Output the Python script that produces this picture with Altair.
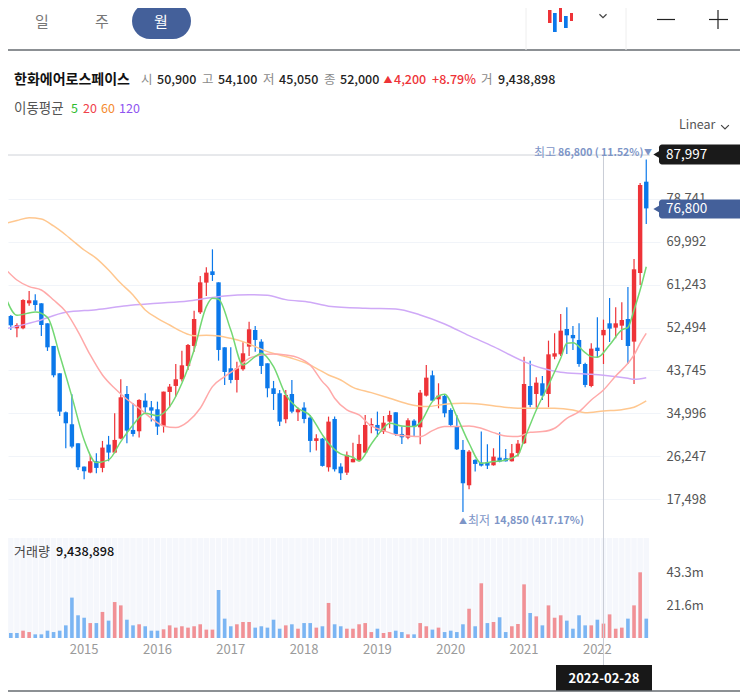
import altair as alt
import pandas as pd

FONT = "Noto Sans CJK KR"
RED = "#ee3338"
BLUE = "#0b78ea"
NAVY = "#44609a"
SOFT = "#7d95c7"
ONE = pd.DataFrame({"a": [1]})

# monthly candles, index 0 = 2013-12
opens = [56750,54850,52330,52330,57430,58040,57430,53350,48730,43150,
         35190,32750,28870,24110,22890,25200,23840,28600,26970,29820,
         38930,31590,31320,37570,36210,35810,32410,39340,40570,41930,
         44650,48730,55590,61650,63960,61710,48450,44170,41790,43970,
         48590,51990,49610,45190,40090,39070,33770,38930,35190,36150,
         34110,29350,29820,23970,33830,24110,22880,24990,25470,26960,
         32470,32610,31250,33290,35190,30770,30020,33490,32130,38590,
         42740,37840,38520,35670,32400,27510,20300,25470,24920,24990,
         24380,25940,25810,25190,26890,28870,40560,38930,41110,38930,
         46550,47020,52190,50970,49950,45050,40560,48380,50900,53350,
         52460,52870,54230,49610,63620,82250]
highs = [57090,55050,53350,58250,59950,59270,57430,53350,48730,43150,
         35330,38870,28870,24110,26490,26830,29350,30370,34990,41930,
         40570,37030,37850,39070,37510,37370,39410,40970,45050,47770,
         49130,55930,63010,64770,68450,61710,48450,48450,45530,49470,
         53690,52810,50090,45190,41590,39750,39750,41790,36150,37230,
         34650,30710,29960,34310,34310,24790,27170,29000,30630,34650,
         33970,35330,34440,35530,35190,32270,33970,33760,39750,44850,
         43690,41110,38860,36010,34650,29550,27510,25600,31250,28660,
         27850,31110,27710,28730,29550,46550,45730,42330,42600,49810,
         51310,55250,56610,52800,53350,45320,49270,54570,54100,58510,
         56610,57640,60760,66470,81980,86800]
lows = [52530,51990,50490,52130,56950,55930,50770,47710,42330,34450,
        27850,27850,23430,21530,22750,22750,22950,25200,26830,29690,
        28870,30230,30030,34990,33290,30570,31050,36210,38390,41450,
        43830,47570,55250,58930,61990,45730,40770,41110,39210,43690,
        46690,47570,43010,38250,35670,32410,32950,34990,33430,32950,
        27030,27370,24110,23090,23090,21390,22410,24990,25130,26830,
        30910,30230,30770,31930,30360,28730,29680,30230,28660,38390,
        37500,36010,34170,32400,27510,14850,19480,23090,24110,23630,
        24310,24990,25130,25130,26150,28730,36210,36140,37710,36210,
        46000,46680,47090,47910,44510,40290,40290,46410,45050,49540,
        50290,49950,45050,40970,61170,73620]
closes = [54510,52940,53010,58110,58040,57090,53010,48450,42740,35330,
          32950,28190,23970,23160,25200,23840,27990,26970,29550,38250,
          31450,30770,37710,36210,35530,32270,39410,40430,41930,44780,
          48930,54230,61710,63690,63210,47910,43420,41790,44170,47230,
          52130,49950,44650,40090,38930,33290,38730,35330,35810,33830,
          29350,29890,24250,33290,23560,22750,26490,25670,28730,32610,
          32810,31450,33080,34650,30770,30090,33560,32400,39200,42260,
          37570,38590,34990,32610,27640,20710,27170,24650,24310,24310,
          26150,25130,25190,26830,28800,40970,36690,41240,38590,47020,
          47230,51850,50900,50290,45050,40770,48180,47700,52000,52260,
          53350,54030,48720,64370,81570,76800]

# volume in millions, with the colour the volume pane gives each month
volumes = [3.3,3.3,3.3,4.8,3.9,2.4,2.4,4.8,3.9,4.8,
           8.3,26.5,14.9,13.3,9.8,9.8,17.1,11.4,23.6,21.4,
           12.0,8.3,9.0,7.7,4.8,4.8,5.7,8.3,6.8,7.7,
           6.8,7.7,9.0,5.5,5.5,31.5,12.7,7.7,9.0,10.5,
           10.5,6.8,7.7,6.8,12.0,6.1,8.3,9.0,6.1,9.8,
           9.8,6.8,7.7,23.0,9.0,7.7,6.1,6.1,9.0,9.8,
           3.9,6.1,3.3,3.9,4.8,3.9,2.4,2.4,9.8,7.7,
           5.5,6.8,3.9,4.8,3.9,9.0,19.2,7.7,35.9,9.8,
           10.5,13.6,3.9,7.7,9.2,35.2,16.4,14.2,8.3,21.4,
           13.3,14.9,11.4,6.1,14.9,8.3,8.3,12.0,9.44,15.5,
           6.1,6.8,12.7,21.4,43.1,12.7]
vol_flags = ("bbbrrbbbbb" "bbbbrbrbrr" "bbrbbbrrrr" "rrrrrbbbrr" "rbbbbbrbrb"
             "brbrbbrrrr" "rbrrbbrbrr" "brbbbbrbrb" "rbbrrrbrbr" "rrbbbbrbrr" "rrbrrb")

ma5 = [(0,59130),(2,54980),(5,55660),(7,54570),(9,46890),(11,38390),(13,29550),(15,24930),(17,25470),(19,29210),
       (21,32610),(23,34990),(25,34510),(27,36350),(29,41110),(31,47910),(33,56750),(34,58450),(35,58250),(37,51990),
       (39,44850),(41,46550),(42,47230),(44,44510),(46,38730),(48,36010),(50,34510),(52,30570),(53,28870),(55,26690),
       (57,26010),(58,25260),(60,28730),(62,31930),(63,32950),(65,32400),(67,32270),(68,33080),(70,37370),(71,38520),
       (72,38860),(74,34310),(76,28870),(78,24790),(80,25130),(82,25470),(84,26490),(85,29550),(87,35670),(89,40770),
       (91,46210),(92,49270),(93,49400),(95,47360),(96,46550),(97,46410),(99,48930),(101,51990),(102,52530),(103,56060),
       (104,60150),(105,64900)]
ma20 = [(0,64570),(2,62190),(4,60830),(6,60150),(8,58110),(10,55730),(12,51650),(14,46890),(16,42810),(18,40090),
        (20,37850),(22,36010),(24,33970),(26,32410),(28,32070),(30,33290),(32,36010),(34,40430),(36,42470),(38,44170),
        (40,46210),(42,46890),(44,47090),(46,46890),(48,46350),(50,44850),(52,41450),(53,40090),(54,38050),(56,35670),
        (58,34650),(60,32400),(62,31450),(64,30630),(66,30360),(68,30230),(70,31450),(72,32270),(74,32270),(76,32400),
        (78,31930),(80,31040),(82,30360),(84,30230),(86,31110),(88,31250),(90,31930),(92,33970),(94,35330),(96,37710),
        (98,39750),(100,42600),(102,45190),(103,46890),(104,49270),(105,51310)]
ma60 = [(0,73720),(2,74330),(4,74900),(6,74630),(8,73210),(10,71370),(11,70350),(13,68310),(15,66610),(17,64230),
        (19,61510),(21,59130),(23,56070),(25,54370),(27,53010),(29,51650),(31,50830),(33,50900),(35,50770),(37,50290),
        (39,49610),(41,48590),(43,47570),(45,46890),(47,46210),(49,45390),(51,44170),(53,42810),(55,41790),(57,40290),
        (60,39200),(63,38050),(66,36890),(69,36350),(72,36820),(75,37030),(78,36820),(81,36350),(84,36010),(87,36010),
        (90,36010),(93,35670),(95,35120),(98,35460),(101,35730),(103,36210),(105,37500)]
ma120 = [(0,52190),(5,53690),(10,55590),(15,56140),(20,56950),(25,57430),(30,57910),(33,58450),(36,58930),(40,59200),
         (43,59060),(46,58180),(50,57630),(53,56850),(59,56410),(64,56270),(68,55050),(72,53210),(76,50830),(80,48590),
         (85,45530),(88,44170),(91,43350),(95,43010),(98,42740),(102,42130),(103,41920),(105,42260)]

price_ticks = [17498,26247,34996,43745,52494,61243,69992,78741]
volume_ticks = [21.6,43.3]
year_ticks = [13,25,37,49,61,73,85,97]
year_labels = ["2015","2016","2017","2018","2019","2020","2021","2022"]

n = len(closes)
df = pd.DataFrame({"i": list(range(n)), "open": opens, "high": highs, "low": lows, "close": closes,
                   "vol": volumes, "vdir": ["up" if f == "r" else "down" for f in vol_flags]})
df["dir"] = ["up" if c >= o else "down" for o, c in zip(opens, closes)]

W, H = 652, 630
X_DOM = [0.54, 107.25]
x_plain = alt.X("i:Q", scale=alt.Scale(domain=X_DOM, nice=False, zero=False), axis=None)
P_SCALE = alt.Scale(domain=[17498, 87490], range=[491, 148], nice=False, zero=False)
V_SCALE = alt.Scale(domain=[0, 43.3], range=[630, 564], nice=False, zero=False)
color = alt.Color("dir:N", scale=alt.Scale(domain=["up", "down"], range=[RED, BLUE]), legend=None)
vcolor = alt.Color("vdir:N", scale=alt.Scale(domain=["up", "down"], range=[RED, BLUE]), legend=None)
base = alt.Chart(df)

layers = []


def ui_rect(x, x2, y, y2, fill, radius=0):
    return alt.Chart(ONE).mark_rect(color=fill, cornerRadius=radius).encode(
        x=alt.value(x - 8), x2=alt.value(x2 - 8), y=alt.value(y - 8), y2=alt.value(y2 - 8))


def ui_rule(x, x2, y, y2, stroke, width=1):
    return alt.Chart(ONE).mark_rule(color=stroke, strokeWidth=width).encode(
        x=alt.value(x - 8), x2=alt.value(x2 - 8), y=alt.value(y - 8), y2=alt.value(y2 - 8))


def ui_text(text, x, y, fill="#222222", size=12.5, weight="normal", align="left"):
    return alt.Chart(ONE).mark_text(text=text, color=fill, fontSize=size, fontWeight=weight, font=FONT,
                                    align=align, baseline="middle").encode(
        x=alt.value(x - 8), y=alt.value(y - 8))


def ui_point(shape, x, y, size, fill=None, stroke=None, width=1):
    kw = {"filled": fill is not None, "size": size, "shape": shape, "opacity": 1}
    if fill:
        kw["color"] = fill
    if stroke:
        kw["color"] = stroke
        kw["strokeWidth"] = width
    return alt.Chart(ONE).mark_point(**kw).encode(x=alt.value(x - 8), y=alt.value(y - 8))


# price grid + axis
layers.append(base.mark_rule(opacity=0).encode(
    x=x_plain,
    y=alt.Y("low:Q", scale=P_SCALE, axis=alt.Axis(
        values=price_ticks, orient="right", format=",.0f", title=None, domain=False, ticks=False, grid=True,
        gridColor="#f1f4f9", gridWidth=1, labelColor="#555555", labelFontSize=13, labelPadding=6,
        labelFont=FONT, labelFontWeight="normal"))))

# year labels placed through the month scale
layers.append(alt.Chart(pd.DataFrame({"i": year_ticks, "year": year_labels})).mark_text(
    color="#9a9a9a", fontSize=13, font=FONT, align="center", baseline="middle").encode(
    x=x_plain, y=alt.value(642), text="year:N"))

# volume pane: month stripes, bars, axis
layers.append(base.mark_rule(color="#f5f7fc", strokeWidth=5.4, clip=True).encode(
    x=x_plain, y=alt.value(530), y2=alt.value(630)))
layers.append(base.mark_rule(strokeWidth=3.6, opacity=0.52, clip=True).encode(
    x=x_plain,
    y=alt.Y("vol:Q", scale=V_SCALE, axis=alt.Axis(
        values=volume_ticks, orient="right", title=None, domain=False, ticks=False, grid=False,
        labelExpr="datum.value + 'm'", labelColor="#555555", labelFontSize=13, labelPadding=6,
        labelFont=FONT, labelFontWeight="normal")),
    y2=alt.Y2(datum=0),
    color=vcolor))

# guides
layers.append(ui_rule(0, 650, 155, 155, "#cfd2d8"))
layers.append(alt.Chart(pd.DataFrame({"i": [98]})).mark_rule(color="#c9cdd6", strokeWidth=1).encode(
    x=x_plain, y=alt.value(147), y2=alt.value(660)))

# candles
layers.append(base.mark_rule(strokeWidth=1.2, clip=True).encode(
    x=x_plain, y=alt.Y("high:Q", scale=P_SCALE, axis=None), y2="low:Q", color=color))
layers.append(base.mark_rule(strokeWidth=4.4, strokeCap="butt", clip=True).encode(
    x=x_plain, y=alt.Y("open:Q", scale=P_SCALE, axis=None), y2="close:Q", color=color))

# moving averages
for pairs, stroke in [(ma120, "#cfa9f7"), (ma60, "#ffc78f"), (ma20, "#ffa9a9"), (ma5, "#73d873")]:
    layers.append(alt.Chart(pd.DataFrame(pairs, columns=["i", "v"])).mark_line(
        color=stroke, strokeWidth=1.5, interpolate="monotone", clip=True).encode(
        x=x_plain, y=alt.Y("v:Q", scale=P_SCALE, axis=None)))

# extreme annotations
layers.append(ui_text("최고", 534, 153, SOFT, 12))
layers.append(ui_text("86,800 ( 11.52%)", 558, 153, SOFT, 10.5, "bold"))
layers.append(ui_text("▼", 648, 153, SOFT, 8, "normal", "center"))
layers.append(ui_text("▲", 463, 522, SOFT, 8, "normal", "center"))
layers.append(ui_text("최저", 468, 521, SOFT, 12))
layers.append(ui_text("14,850 (417.17%)", 494, 521, SOFT, 10.6, "bold"))

# price tags
layers.append(ui_rect(659, 745, 144.5, 164.5, "#1a1a1a", 3))
layers.append(ui_point("triangle-left", 657, 154.5, 70, fill="#1a1a1a"))
layers.append(ui_text("87,997", 666, 155, "#ffffff", 13.5))
layers.append(ui_rect(659, 745, 199.5, 218.5, NAVY, 3))
layers.append(ui_point("triangle-left", 657, 209, 70, fill=NAVY))
layers.append(ui_text("76,800", 666, 209, "#ffffff", 13.5))

# date tag and frame lines
layers.append(ui_rect(556, 652, 665, 691, "#181818"))
layers.append(ui_text("2022-02-28", 604, 679, "#ffffff", 13, "bold", "center"))
layers.append(ui_rule(0, 745, 691, 691, "#666b70", 1.5))
layers.append(ui_rule(0, 745, 50, 50, "#666b70", 1.5))
layers.append(ui_rule(526, 526, 0, 50, "#eeeeee"))
layers.append(ui_rule(626, 626, 0, 50, "#eeeeee"))

# tabs
layers.append(ui_rect(132, 191, 3, 39, NAVY, 18))
layers.append(ui_text("일", 42, 22, "#777777", 15, "normal", "center"))
layers.append(ui_text("주", 102, 22, "#777777", 15, "normal", "center"))
layers.append(ui_text("월", 161, 22, "#ffffff", 15, "normal", "center"))

# candle icon
for x0, x1, y0, y1, c in [(548, 551.5, 10, 23, RED), (553, 556.7, 13, 32, BLUE), (559, 562, 7, 22, RED),
                          (564, 567.7, 16, 28, BLUE), (570, 573, 13, 21, RED)]:
    layers.append(ui_rect(x0, x1, y0, y1, c))
layers.append(ui_point("M-1,-0.5L0,0.5L1,-0.5", 603, 16, 50, stroke="#444444", width=1.2))
layers.append(ui_rule(657, 675, 19.5, 19.5, "#222222", 1.2))
layers.append(ui_rule(709, 728, 19.5, 19.5, "#222222", 1.2))
layers.append(ui_rule(718, 718, 10, 29, "#222222", 1.2))

# info rows
layers.append(ui_text("한화에어로스페이스", 14, 80, "#111111", 14, "bold"))
for text, x, fill in [("시", 141, "#8a8a8a"), ("50,900", 157, "#222222"), ("고", 202, "#8a8a8a"),
                      ("54,100", 218, "#222222"), ("저", 263, "#8a8a8a"), ("45,050", 279, "#222222"),
                      ("종", 324, "#8a8a8a"), ("52,000", 340, "#222222"), ("4,200", 394, "#ee3338"),
                      ("+8.79%", 432, "#ee3338"), ("거", 481, "#8a8a8a"), ("9,438,898", 498, "#222222")]:
    weight = "normal" if fill == "#8a8a8a" else 500
    layers.append(ui_text(text, x, 80, fill, 12.5, weight))
layers.append(ui_text("▲", 388, 80, "#ee3338", 9, "normal", "center"))
layers.append(ui_text("이동평균", 14, 109, "#555555", 13.5))
layers.append(ui_text("5", 71, 109, "#2dbb2d", 12.5))
layers.append(ui_text("20", 83, 109, "#f0414a", 12.5))
layers.append(ui_text("60", 101, 109, "#f58a2e", 12.5))
layers.append(ui_text("120", 119, 109, "#8f55f0", 12.5))
layers.append(ui_text("Linear", 679, 125, "#555555", 12.5))
layers.append(ui_point("M-1,-0.5L0,0.5L1,-0.5", 725, 127, 60, stroke="#444444", width=1.2))
layers.append(ui_text("거래량", 14, 552, "#444444", 13))
layers.append(ui_text("9,438,898", 56, 552, "#111111", 12.7, 500))

chart = alt.layer(*layers).resolve_scale(y="independent", color="independent").properties(
    width=W, height=H, background="#ffffff",
    padding={"left": 0, "top": 0, "right": 80, "bottom": 54},
    autosize=alt.AutoSizeParams(type="none", contains="content"),
).configure_view(stroke=None)

chart.save("out.html", embed_options={"renderer": "svg", "actions": False})
